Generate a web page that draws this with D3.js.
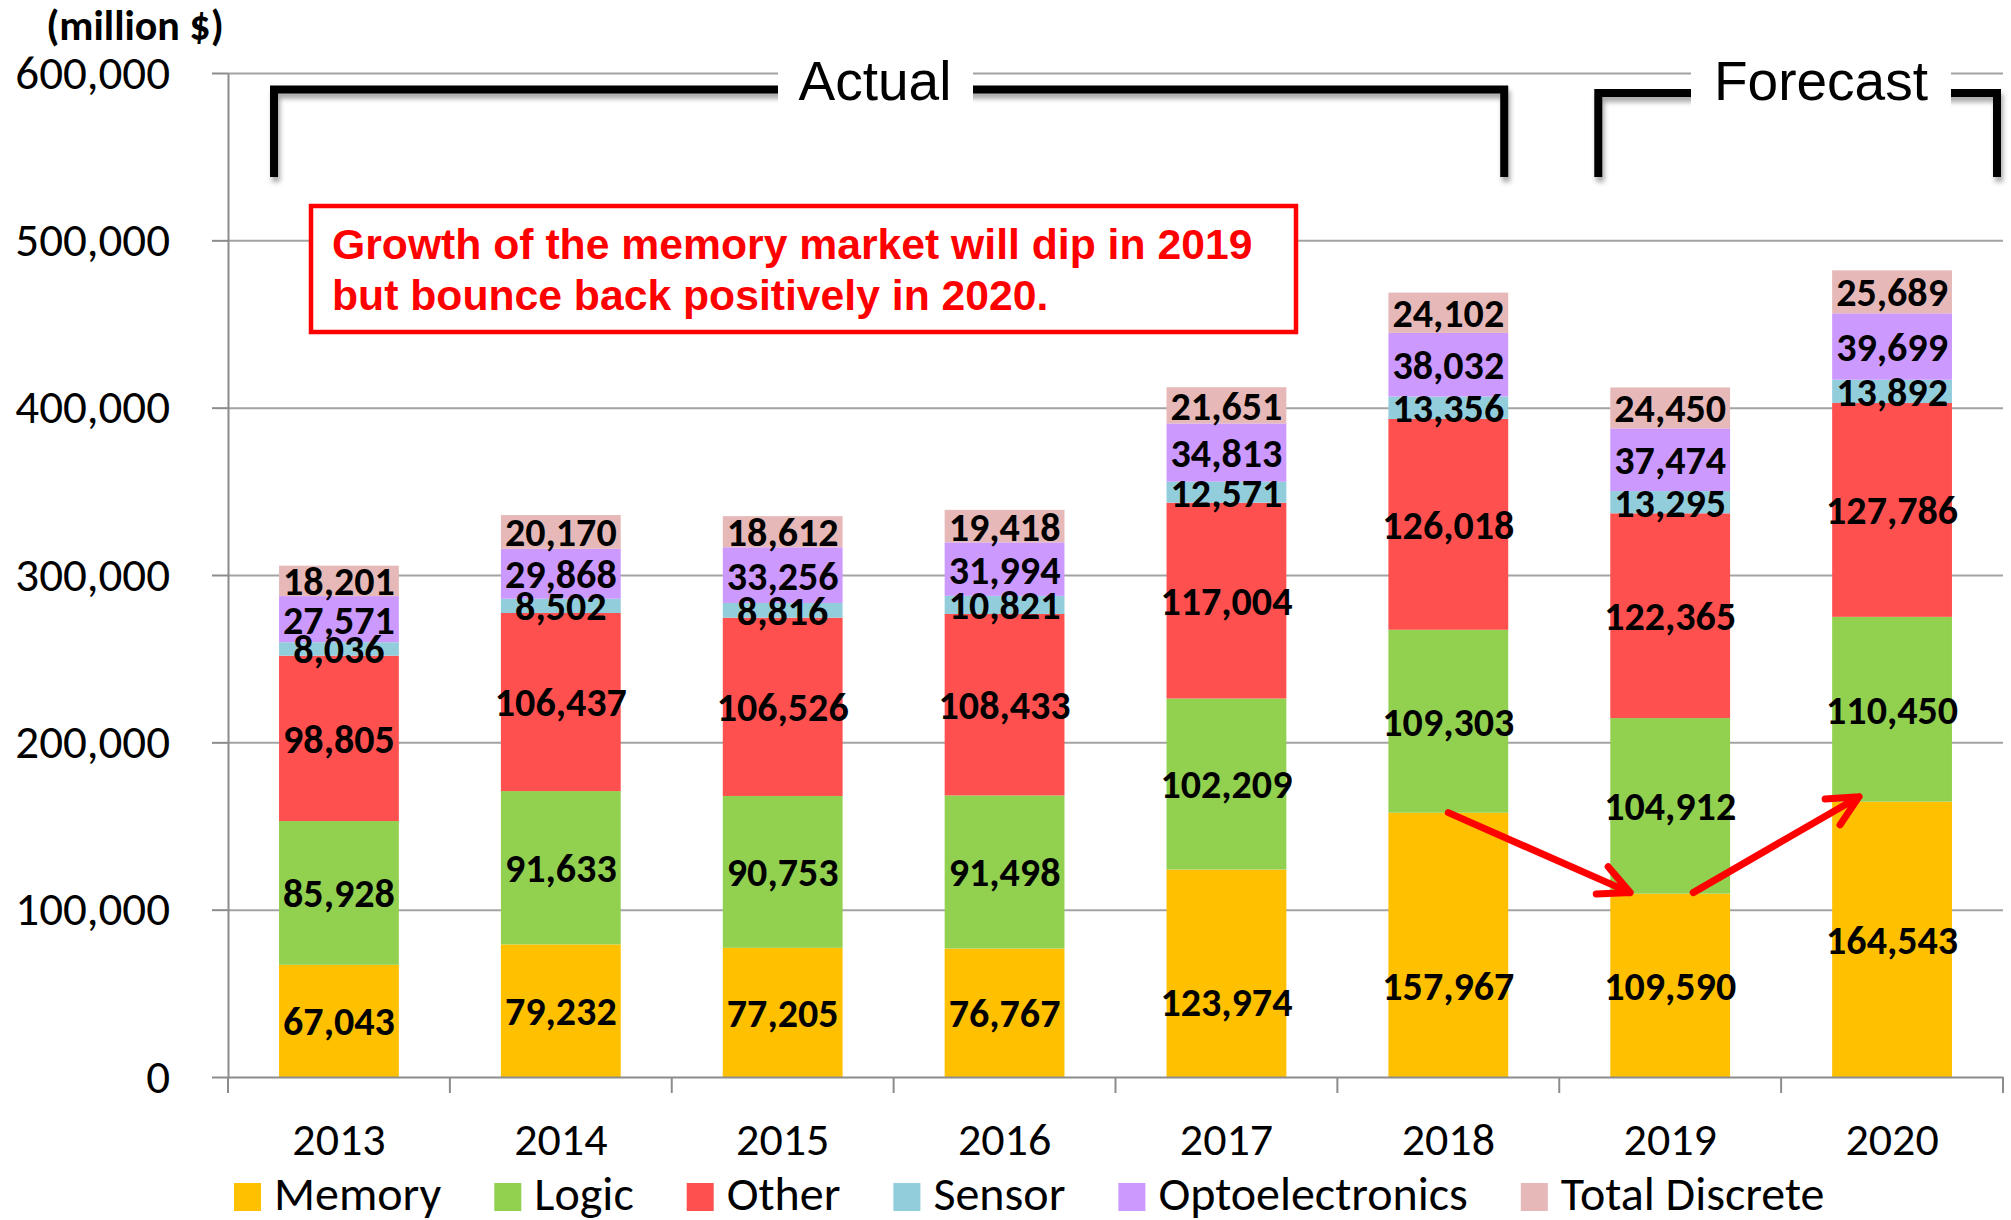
<!DOCTYPE html>
<html><head><meta charset="utf-8">
<script src="https://cdn.jsdelivr.net/npm/d3@7"></script>
<style>html,body{margin:0;padding:0;background:#fff;} svg{display:block;}</style>
</head><body>
<svg id="chart" width="2011" height="1220"></svg>
<script>
// ---------------- data ----------------
const years = ["2013","2014","2015","2016","2017","2018","2019","2020"];
const memory   = [67043, 79232, 77205, 76767, 123974, 157967, 109590, 164543];
const logic    = [85928, 91633, 90753, 91498, 102209, 109303, 104912, 110450];
const other    = [98805, 106437, 106526, 108433, 117004, 126018, 122365, 127786];
const sensor   = [8036, 8502, 8816, 10821, 12571, 13356, 13295, 13892];
const opto     = [27571, 29868, 33256, 31994, 34813, 38032, 37474, 39699];
const discrete = [18201, 20170, 18612, 19418, 21651, 24102, 24450, 25689];
const seriesNames  = ["Memory","Logic","Other","Sensor","Optoelectronics","Total Discrete"];
const seriesColors = ["#FFC000","#92D050","#FF5050","#92CDDC","#CC99FF","#E6B9B8"];
const yTicks = [0,100000,200000,300000,400000,500000,600000];
const unitLabel = "(million $)";
const actualLabel = "Actual";
const forecastLabel = "Forecast";
const noteLines = ["Growth of the memory market will dip in 2019","but bounce back positively in 2020."];

// --------------- fonts ----------------
function hasFont(name){
  const c=document.createElement('canvas').getContext('2d');
  const s='abcdefghijklmnopqrstuvwxyz0123456789,$()';
  return ['monospace','serif'].some(g=>{
    c.font='40px '+g; const a=c.measureText(s).width;
    c.font='40px "'+name+'", '+g; return Math.abs(c.measureText(s).width-a)>0.5;});
}
const useCarlito = hasFont("Carlito");
const FF = useCarlito ? '"Carlito", "Lato", sans-serif' : '"Lato", "Open Sans", sans-serif';
const K = useCarlito ? 1 : 0.88;
const ARIAL = '"Liberation Sans", Arial, sans-serif';

// --------------- table ----------------
const table = years.map((yr,i)=>({year:yr, "Memory":memory[i], "Logic":logic[i], "Other":other[i],
  "Sensor":sensor[i], "Optoelectronics":opto[i], "Total Discrete":discrete[i]}));
const stacked = d3.stack().keys(seriesNames)(table);
const color = d3.scaleOrdinal().domain(seriesNames).range(seriesColors);

const svg = d3.select('#chart');
const L=228, R=2003, B=1077, T=73;
const x = d3.scaleBand().domain(years).range([L,R]).padding(0);
const y = d3.scaleLinear().domain([0,600000]).range([B,T]);
const bw = x.bandwidth();
const barW = bw*0.54;

const defs = svg.append('defs');
defs.append('filter').attr('id','sh').attr('x','-5%').attr('y','-20%').attr('width','115%').attr('height','160%')
  .append('feDropShadow').attr('dx',2).attr('dy',5).attr('stdDeviation',2.5)
  .attr('flood-color','#000').attr('flood-opacity',0.35);

// gridlines
svg.append('g').attr('transform',`translate(${L},0)`)
  .call(d3.axisLeft(y).tickValues(yTicks.filter(d=>d>0)).tickSize(-(R-L)).tickFormat(''))
  .call(g=>g.select('.domain').remove())
  .call(g=>g.selectAll('line').attr('stroke','#a3a3a3').attr('stroke-width',2));

// bars
const layers = svg.append('g').selectAll('g').data(stacked).join('g').attr('fill',d=>color(d.key));
layers.selectAll('rect').data(d=>d).join('rect')
  .attr('x',d=>x(d.data.year)+bw/2-barW/2).attr('width',barW)
  .attr('y',d=>y(d[1])).attr('height',d=>y(d[0])-y(d[1]));

// data labels (the 2017/2018 memory labels are nudged down, as in the original, to clear the arrows)
const fmt = d3.format(",");
const nudge = (key,yr)=> key==="Memory" ? ({"2017":28,"2018":41}[yr]||0) : 0;
const lab = svg.append('g').attr('font-family',FF).attr('font-weight','bold').attr('font-size',40*K)
  .attr('text-anchor','middle').attr('fill','#000');
stacked.forEach(s=>{
  lab.selectAll(null).data(s).join('text')
    .attr('x',d=>x(d.data.year)+bw/2).attr('y',d=>y((d[0]+d[1])/2)+nudge(s.key,d.data.year)).attr('dy','0.36em')
    .text(d=>fmt(d[1]-d[0]));
});

// y axis
svg.append('g').attr('transform',`translate(${L},0)`)
  .call(d3.axisLeft(y).tickValues(yTicks).tickSize(16).tickSizeOuter(0).tickPadding(42).tickFormat(fmt))
  .call(g=>g.select('.domain').attr('stroke','#8c8c8c').attr('stroke-width',2))
  .call(g=>g.selectAll('line').attr('stroke','#8c8c8c').attr('stroke-width',2))
  .call(g=>g.selectAll('text').attr('font-family',FF).attr('font-size',47*K).attr('fill','#000'));

// x axis
svg.append('g').attr('transform',`translate(0,${B})`)
  .call(d3.axisBottom(x).tickSize(0).tickSizeOuter(0))
  .call(g=>g.select('.domain').attr('stroke','#8c8c8c').attr('stroke-width',2))
  .call(g=>g.selectAll('text').attr('font-family',FF).attr('font-size',46*K).attr('fill','#000')
     .attr('y',78).attr('dy',0));
const bounds = years.map(d=>x(d)).concat([R]);
svg.append('g').selectAll('line').data(bounds).join('line')
  .attr('x1',d=>d).attr('x2',d=>d).attr('y1',B).attr('y2',B+16)
  .attr('stroke','#8c8c8c').attr('stroke-width',2);

// unit label
svg.append('text').attr('x',135).attr('y',40).attr('text-anchor','middle')
  .attr('font-family',FF).attr('font-weight','bold').attr('font-size',42*K).text(unitLabel);

// legend
const leg = svg.append('g');
let cx = 234;
seriesNames.forEach((n,i)=>{
  leg.append('rect').attr('x',cx).attr('y',1183).attr('width',27).attr('height',28).attr('fill',seriesColors[i]);
  const t = leg.append('text').attr('x',cx+40).attr('y',1210).attr('font-family',FF).attr('font-size',48*K).text(n);
  cx += 40 + t.node().getComputedTextLength() + 53;
});

// brackets
const ann = svg.append('g');
const aL = x(years[0])+bw/2-barW/2-5, aR = x(years[5])+bw/2+barW/2-4;
const fL = x(years[6])+bw/2-barW/2-12, fR = R-6;
ann.append('path').attr('d',`M${aL},177V89.5H${aR}V177`).attr('fill','none').attr('stroke','#000')
  .attr('stroke-width',8).attr('filter','url(#sh)');
ann.append('path').attr('d',`M${fL},177V93H${fR}V177`).attr('fill','none').attr('stroke','#000')
  .attr('stroke-width',8).attr('filter','url(#sh)');
function boxedText(txt, cxp, x0, x1){
  ann.append('rect').attr('x',x0).attr('y',48).attr('width',x1-x0).attr('height',62).attr('fill','#fff');
  ann.append('text').attr('x',cxp).attr('y',100).attr('text-anchor','middle').attr('font-family',ARIAL)
    .attr('font-size',55).attr('fill','#000').text(txt);
}
boxedText(actualLabel, 875, 778, 973);
boxedText(forecastLabel, 1821, 1691, 1951);

// note box
svg.append('rect').attr('x',311).attr('y',206).attr('width',985).attr('height',126)
  .attr('fill','#fff').attr('stroke','#FF0000').attr('stroke-width',4.5);
noteLines.forEach((l,i)=>{
  svg.append('text').attr('x',332).attr('y',259+i*51).attr('font-family',ARIAL).attr('font-weight','bold')
    .attr('font-size',42.7).attr('fill','#FF0000').text(l);
});

// arrows
function arrow(x1,y1,x2,y2){
  const a = Math.atan2(y2-y1,x2-x1)+Math.PI, len=34, sp=26*Math.PI/180;
  const w1=[x2+len*Math.cos(a+sp), y2+len*Math.sin(a+sp)], w2=[x2+len*Math.cos(a-sp), y2+len*Math.sin(a-sp)];
  svg.append('path').attr('d',`M${x1},${y1}L${x2},${y2}M${w1[0]},${w1[1]}L${x2},${y2}L${w2[0]},${w2[1]}`)
    .attr('fill','none').attr('stroke','#FF0000').attr('stroke-width',7)
    .attr('stroke-linecap','round').attr('stroke-linejoin','round');
}
arrow(x(years[5])+bw/2, y(memory[5]), x(years[6])+bw/2-40, y(memory[6])-1);
arrow(x(years[6])+bw/2+23, y(memory[6])-1, x(years[7])+bw/2-33, y(memory[7])-5);
</script>
</body></html>
